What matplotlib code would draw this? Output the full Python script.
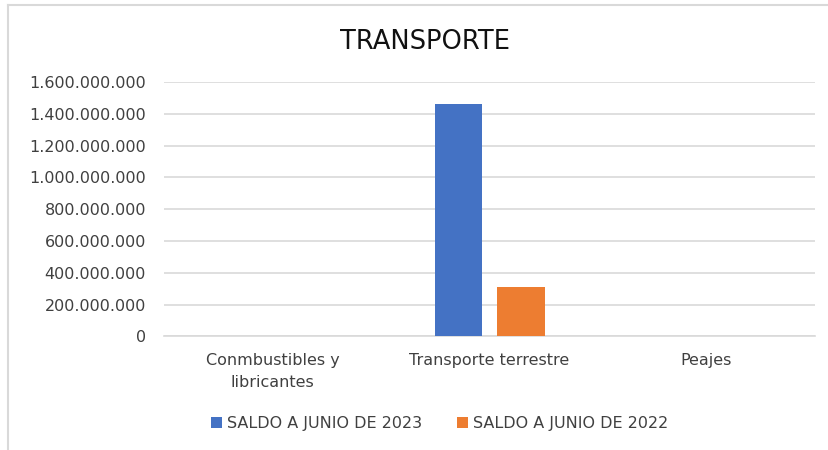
import numpy as np
import matplotlib
matplotlib.use("Agg")
import matplotlib.pyplot as plt
from matplotlib.ticker import FuncFormatter
from matplotlib.lines import Line2D

# datos
categorias = ["Conmbustibles y\nlibricantes", "Transporte terrestre", "Peajes"]
saldo_2023 = [0, 1460000000, 0]
saldo_2022 = [0, 312000000, 0]
series = ["SALDO A JUNIO DE 2023", "SALDO A JUNIO DE 2022"]
colores = ["#4472C4", "#ED7D31"]
y_ticks = [0, 200000000, 400000000, 600000000, 800000000,
           1000000000, 1200000000, 1400000000, 1600000000]

plt.rcParams['font.family'] = ['DejaVu Sans']
texto = "#404040"

fig = plt.figure(figsize=(8.29, 4.50), dpi=100)
ax = fig.add_axes([0.198, 0.2527, 0.785, 0.565])

x = np.arange(len(categorias))
ancho = 0.221
sep = 0.065
ax.bar(x - (ancho + sep) / 2, saldo_2023, ancho, color=colores[0], label=series[0], zorder=3)
ax.bar(x + (ancho + sep) / 2, saldo_2022, ancho, color=colores[1], label=series[1], zorder=3)

ax.set_xlim(-0.5, 2.5)
ax.set_ylim(0, 1600000000)
ax.set_yticks(y_ticks)
ax.yaxis.set_major_formatter(FuncFormatter(lambda v, p: f"{int(v):,}".replace(",", ".")))
ax.set_xticks(x)
ax.set_xticklabels(categorias, fontsize=11.5, color=texto, linespacing=1.6, va='top')
ax.tick_params(axis='y', labelsize=11.5, labelcolor=texto, length=0, pad=13)
ax.tick_params(axis='x', length=0, pad=12)
ax.grid(axis='y', color='#d9d9d9', linewidth=1.2, zorder=0)
for s in ['top', 'right', 'left']:
    ax.spines[s].set_visible(False)
ax.spines['bottom'].set_color('#d9d9d9')
ax.spines['bottom'].set_linewidth(1.2)

fig.text(0.513, 0.907, "TRANSPORTE", ha='center', va='center', fontsize=18.5, color='#111111')

ax.legend(loc='center', bbox_to_anchor=(0.53, 0.058), bbox_transform=fig.transFigure,
          ncol=2, frameon=False, fontsize=11.5, handlelength=0.7, handleheight=0.7,
          handletextpad=0.3, columnspacing=2.2, labelcolor=texto)

# marco del gráfico (solo se ven los bordes izquierdo y superior)
fig.add_artist(Line2D([8 / 829, 8 / 829], [0, 1 - 5 / 450], transform=fig.transFigure,
                      color='#d9d9d9', linewidth=1.5))
fig.add_artist(Line2D([8 / 829, 1], [1 - 5 / 450, 1 - 5 / 450], transform=fig.transFigure,
                      color='#d9d9d9', linewidth=1.5))

fig.savefig("out.png", dpi=100, facecolor='white')
